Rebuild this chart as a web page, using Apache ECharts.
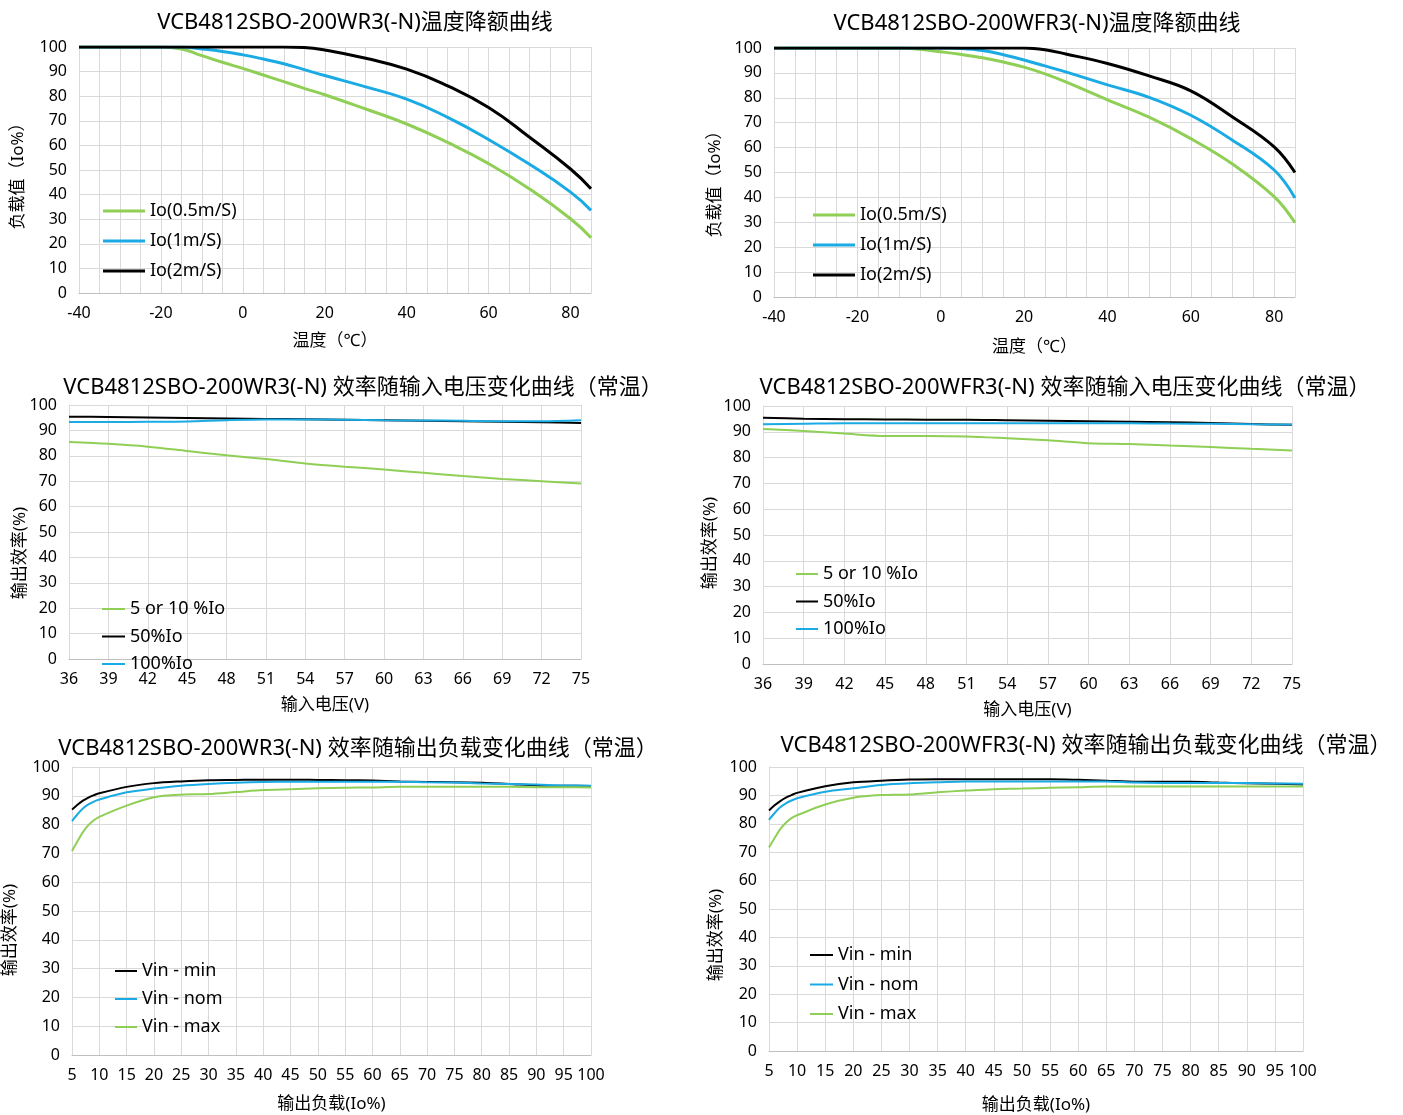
<!DOCTYPE html>
<html lang="zh">
<head>
<meta charset="UTF-8">
<title>VCB4812SBO-200W 曲线</title>
<script src="https://cdn.jsdelivr.net/npm/echarts@6/dist/echarts.min.js"></script>
<style>
  body { margin: 0; background: #fff; }
  #main { width: 1403px; height: 1115px; }
</style>
</head>
<body>
<div id="main"></div>
<script>
// ---- 温度降额 (WR3) ----
const tempWR3 = [-40, -20, -15, -10, -5, 0, 5, 10, 15, 20, 30, 40, 50, 60, 70, 80, 85];
const wr3Io05 = [100, 100, 99.2, 96.5, 93.8, 91.3, 88.6, 85.9, 83.2, 80.6, 74.8, 68.7, 61.2, 52.6, 42.3, 30.2, 22.5];
const wr3Io1  = [100, 100, 100, 99.2, 98.2, 96.8, 95.1, 93.2, 90.8, 88.4, 83.8, 78.8, 71.4, 62.4, 52.3, 41.0, 33.6];
const wr3Io2  = [100, 100, 100, 100, 100, 100, 100, 100, 99.8, 98.8, 95.4, 91.0, 84.2, 75.4, 63.3, 50.4, 42.4];

// ---- 温度降额 (WFR3) ----
const tempWFR3 = [-40, -20, -10, -5, 0, 5, 10, 15, 20, 25, 30, 40, 50, 60, 70, 80, 85];
const wfr3Io05 = [100, 100, 100, 99.5, 98.5, 97.4, 96.1, 94.4, 92.3, 89.6, 86.4, 79.2, 72.2, 63.6, 53.4, 40.3, 29.8];
const wfr3Io1  = [100, 100, 100, 100, 100, 99.8, 99.0, 97.3, 95.2, 92.8, 90.4, 85.2, 80.2, 73.0, 63.0, 51.0, 39.8];
const wfr3Io2  = [100, 100, 100, 100, 100, 100, 100, 100, 100, 99.3, 97.6, 93.8, 88.8, 82.8, 72.3, 60.3, 50.0];

// ---- 效率 vs 输入电压 ----
const vin = [36, 39, 42, 45, 48, 51, 54, 57, 60, 63, 66, 69, 72, 75];
const wr3Low  = [85.4, 84.7, 83.6, 81.9, 80.2, 78.7, 77.0, 75.7, 74.6, 73.3, 72.0, 70.9, 70.0, 69.1];
const wr3Half = [95.4, 95.3, 95.1, 94.9, 94.7, 94.5, 94.4, 94.2, 94.0, 93.8, 93.6, 93.4, 93.2, 92.9];
const wr3Full = [93.3, 93.3, 93.4, 93.5, 94.0, 94.3, 94.3, 94.2, 94.0, 93.9, 93.8, 93.6, 93.6, 94.0];
const wfr3Low  = [91.1, 90.3, 89.3, 88.4, 88.4, 88.2, 87.5, 86.7, 85.6, 85.3, 84.7, 84.1, 83.4, 82.8];
const wfr3Half = [95.4, 95.1, 94.9, 94.8, 94.7, 94.7, 94.5, 94.3, 94.1, 93.9, 93.7, 93.4, 93.0, 92.7];
const wfr3Full = [92.9, 93.1, 93.3, 93.3, 93.3, 93.3, 93.3, 93.3, 93.3, 93.3, 93.2, 93.1, 92.9, 92.8];

// ---- 效率 vs 输出负载 ----
const load = [5, 6, 7, 8, 9, 10, 15, 20, 25, 30, 35, 40, 45, 50, 55, 60, 65, 70, 75, 80, 85, 90, 95, 100];
const wr3Min = [85.2, 86.9, 88.3, 89.4, 90.2, 90.9, 93.1, 94.4, 95.0, 95.4, 95.5, 95.6, 95.6, 95.5, 95.4, 95.3, 95.0, 94.8, 94.7, 94.5, 94.1, 93.6, 93.5, 93.4];
const wr3Nom = [81.2, 83.6, 85.6, 87.0, 88.0, 88.7, 91.2, 92.5, 93.5, 94.1, 94.5, 94.8, 94.9, 94.9, 94.9, 94.9, 94.9, 94.7, 94.6, 94.3, 94.1, 93.9, 93.6, 93.5];
const wr3Max = [70.8, 74.2, 77.4, 79.8, 81.5, 82.7, 86.6, 89.5, 90.4, 90.6, 91.3, 92.0, 92.3, 92.6, 92.8, 92.9, 93.1, 93.1, 93.1, 93.1, 93.1, 93.0, 93.0, 92.9];
const wfr3Min = [84.7, 86.5, 88.0, 89.2, 90.1, 90.9, 93.2, 94.6, 95.2, 95.6, 95.7, 95.7, 95.7, 95.7, 95.7, 95.5, 95.2, 94.8, 94.8, 94.8, 94.5, 94.3, 94.1, 93.8];
const wfr3Nom = [81.4, 83.8, 85.8, 87.2, 88.2, 89.0, 91.3, 92.5, 93.7, 94.3, 94.6, 94.9, 94.9, 94.9, 94.9, 94.9, 94.9, 94.5, 94.4, 94.4, 94.4, 94.4, 94.2, 94.1];
const wfr3Max = [71.7, 75.0, 78.1, 80.4, 82.0, 83.0, 86.8, 89.2, 90.1, 90.3, 91.1, 91.7, 92.2, 92.4, 92.7, 92.9, 93.1, 93.1, 93.1, 93.1, 93.1, 93.1, 93.1, 93.1];

const titles = [
  'VCB4812SBO-200WR3(-N)温度降额曲线',
  'VCB4812SBO-200WFR3(-N)温度降额曲线',
  'VCB4812SBO-200WR3(-N) 效率随输入电压变化曲线（常温）',
  'VCB4812SBO-200WFR3(-N) 效率随输入电压变化曲线（常温）',
  'VCB4812SBO-200WR3(-N) 效率随输出负载变化曲线（常温）',
  'VCB4812SBO-200WFR3(-N) 效率随输出负载变化曲线（常温）'
];

const GREEN = '#8fcf55', BLUE = '#1aaae4', BLACK = '#000000';
const FONT = "'Noto Sans', 'Noto Sans CJK SC', sans-serif";

function zip(xs, ys) {
  return xs.map((x, i) => [x, ys[i]]);
}

// grid boxes
const grids = [
  { left: 79, top: 47, width: 512, height: 246 },
  { left: 774, top: 48, width: 521, height: 249 },
  { left: 69, top: 405, width: 512, height: 254 },
  { left: 763, top: 406, width: 529, height: 258 },
  { left: 72, top: 767, width: 519, height: 288 },
  { left: 769, top: 767, width: 534, height: 286 }
];
const titlePos = [[350, 7], [1032, 8], [358, 372], [1060, 372], [353, 733], [1081, 730]];

function xAxisOf(i, min, max, step, every, name, gap) {
  return {
    type: 'value', gridIndex: i, min: min, max: max, interval: step,
    name: name, nameLocation: 'middle', nameGap: gap,
    nameTextStyle: { fontSize: 17, color: '#000', fontFamily: FONT },
    axisLine: { lineStyle: { color: '#bfbfbf' } },
    axisTick: { show: false },
    axisLabel: {
      fontSize: 16, color: '#000', fontFamily: FONT, margin: 12,
      formatter: v => (every && v % every !== 0) ? '' : String(v)
    },
    splitLine: { show: true, lineStyle: { color: '#d9d9d9' } }
  };
}
function yAxisOf(i) {
  return {
    type: 'value', gridIndex: i, min: 0, max: 100, interval: 10,
    axisLine: { show: true, lineStyle: { color: '#d9d9d9' } },
    axisTick: { show: false },
    axisLabel: { fontSize: 16, color: '#000', fontFamily: FONT, margin: 12 },
    splitLine: { show: true, lineStyle: { color: '#d9d9d9' } }
  };
}
function line(name, i, xs, ys, color, w, sm) {
  return {
    name: name, type: 'line', xAxisIndex: i, yAxisIndex: i,
    data: zip(xs, ys), smooth: sm, showSymbol: false,
    lineStyle: { color: color, width: w }, itemStyle: { color: color }
  };
}
function legendOf(names, left, top, w, h, gap) {
  return {
    data: names, orient: 'vertical', left: left, top: top,
    icon: 'rect', itemWidth: w, itemHeight: h, itemGap: gap,
    textStyle: { fontSize: 18, color: '#000', fontFamily: FONT, lineHeight: 20 }
  };
}
function yName(text, x, y) {
  return {
    type: 'text', x: x, y: y, rotation: Math.PI / 2,
    style: { text: text, fill: '#000', font: '17px ' + FONT, align: 'center', verticalAlign: 'middle' }
  };
}

const derateNames = ['Io(0.5m/S)', 'Io(1m/S)', 'Io(2m/S)'];
const vinNames = ['5 or 10 %Io', '50%Io', '100%Io'];
const loadNames = ['Vin - min', 'Vin - nom', 'Vin - max'];

const option = {
  backgroundColor: '#fff',
  animation: false,
  title: titles.map((t, i) => ({
    text: t, left: titlePos[i][0], top: titlePos[i][1], textAlign: 'center',
    textStyle: { fontSize: 22, fontWeight: 'normal', color: '#000', fontFamily: FONT }
  })),
  grid: grids,
  xAxis: [
    xAxisOf(0, -40, 85, 5, 20, '温度（℃）', 40),
    xAxisOf(1, -40, 85, 5, 20, '温度（℃）', 42),
    xAxisOf(2, 36, 75, 3, 0, '输入电压(V)', 38),
    xAxisOf(3, 36, 75, 3, 0, '输入电压(V)', 38),
    xAxisOf(4, 5, 100, 5, 0, '输出负载(Io%)', 41),
    xAxisOf(5, 5, 100, 5, 0, '输出负载(Io%)', 46)
  ],
  yAxis: [0, 1, 2, 3, 4, 5].map(yAxisOf),
  legend: [
    legendOf(derateNames, 98, 196, 42, 3, 10),
    legendOf(derateNames, 808, 200, 42, 3, 10),
    legendOf(vinNames, 97, 594, 23, 2, 7.5),
    legendOf(vinNames, 791, 559, 22, 2, 7.5),
    legendOf(loadNames, 110, 956, 22, 2, 8),
    legendOf(loadNames, 805, 940, 23, 2, 9.5)
  ],
  graphic: [
    yName('负载值（Io%）', 18, 172),
    yName('负载值（Io%）', 715, 180),
    yName('输出效率(%)', 20, 553),
    yName('输出效率(%)', 710, 543),
    yName('输出效率(%)', 10, 930),
    yName('输出效率(%)', 716, 935)
  ],
  series: [
    line(derateNames[0], 0, tempWR3, wr3Io05, GREEN, 3, 0.5),
    line(derateNames[1], 0, tempWR3, wr3Io1, BLUE, 3, 0.5),
    line(derateNames[2], 0, tempWR3, wr3Io2, BLACK, 3, 0.5),
    line(derateNames[0], 1, tempWFR3, wfr3Io05, GREEN, 3, 0.4),
    line(derateNames[1], 1, tempWFR3, wfr3Io1, BLUE, 3, 0.4),
    line(derateNames[2], 1, tempWFR3, wfr3Io2, BLACK, 3, 0.4),
    line(vinNames[0], 2, vin, wr3Low, GREEN, 2, 0.3),
    line(vinNames[1], 2, vin, wr3Half, BLACK, 2, 0.3),
    line(vinNames[2], 2, vin, wr3Full, BLUE, 2, 0.3),
    line(vinNames[0], 3, vin, wfr3Low, GREEN, 2, 0.3),
    line(vinNames[1], 3, vin, wfr3Half, BLACK, 2, 0.3),
    line(vinNames[2], 3, vin, wfr3Full, BLUE, 2, 0.3),
    line(loadNames[0], 4, load, wr3Min, BLACK, 2, 0.3),
    line(loadNames[1], 4, load, wr3Nom, BLUE, 2, 0.3),
    line(loadNames[2], 4, load, wr3Max, GREEN, 2, 0.3),
    line(loadNames[0], 5, load, wfr3Min, BLACK, 2, 0.3),
    line(loadNames[1], 5, load, wfr3Nom, BLUE, 2, 0.3),
    line(loadNames[2], 5, load, wfr3Max, GREEN, 2, 0.3)
  ]
};

var myChart = echarts.init(document.getElementById('main'));
myChart.setOption(option);
</script>
</body>
</html>
